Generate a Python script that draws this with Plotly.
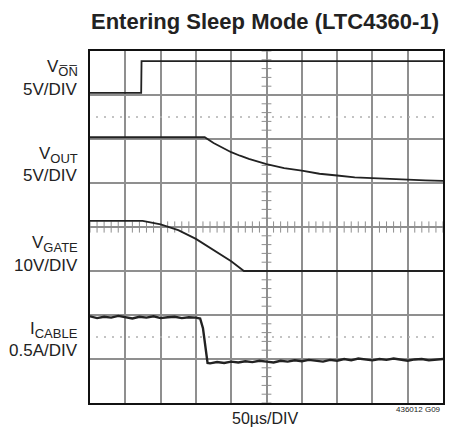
import plotly.graph_objects as go
import numpy as np

# ---- data (x in divisions 0..10, y in divisions 0..8) ----
von_t = [0, 1.45, 1.46, 10]
von_v = [7.05, 7.05, 7.77, 7.77]

vout_t = [0, 3.25, 3.5, 3.75, 4.0, 4.25, 4.5, 5.0, 5.5, 6.0, 6.5, 7.0, 7.5, 8.0, 8.5, 9.0, 9.5, 10.0]
vout_v = [6.04, 6.04, 5.91, 5.80, 5.70, 5.62, 5.55, 5.43, 5.34, 5.28, 5.21, 5.17, 5.13, 5.11, 5.09, 5.08, 5.06, 5.05]

vgate_t = [0, 1.49, 2.0, 2.5, 3.0, 3.5, 4.0, 4.36, 10]
vgate_v = [4.14, 4.14, 4.06, 3.93, 3.73, 3.48, 3.22, 3.0, 3.0]

icable_t = [0, 0.2, 0.4, 0.6, 0.8, 1.0, 1.2, 1.4, 1.6, 1.8, 2.0, 2.2, 2.4, 2.6, 2.8, 3.0,
            3.12, 3.2, 3.27, 3.33,
            3.4, 3.6, 3.8, 4.0, 4.2, 4.4, 4.6, 4.8, 5.0, 5.2, 5.4, 5.6, 5.8, 6.0, 6.2, 6.4,
            6.6, 6.8, 7.0, 7.2, 7.4, 7.6, 7.8, 8.0, 8.2, 8.4, 8.6, 8.8, 9.0, 9.2, 9.4, 9.6, 9.8, 10.0]
icable_v = [1.97, 1.93, 1.96, 1.94, 1.98, 1.95, 1.92, 1.96, 1.94, 1.97, 1.93, 1.95, 1.96, 1.93, 1.95, 1.94,
            1.92, 1.70, 1.20, 0.91,
            0.90, 0.93, 0.91, 0.94, 0.92, 0.95, 0.93, 0.96, 0.94, 0.92, 0.96, 0.94, 0.97, 0.95, 0.98, 0.96,
            0.94, 0.98, 0.96, 1.00, 0.97, 1.01, 0.99, 0.97, 1.00, 0.98, 1.01, 0.98, 0.96, 0.99, 1.00, 0.97, 0.99, 1.00]

ref_levels = [6.5, 1.5]  # dotted ground markers

SUB = "<sub><span style='font-size:13px'>{}</span></sub>"
labels = [
    ("V" + SUB.format("O\u0305N\u0305"), 7.61),
    ("5V/DIV", 7.12),
    ("V" + SUB.format("OUT"), 5.64),
    ("5V/DIV", 5.16),
    ("V" + SUB.format("GATE"), 3.61),
    ("10V/DIV", 3.13),
    ("I" + SUB.format("CABLE"), 1.67),
    ("0.5A/DIV", 1.19),
]

title_text = "Entering Sleep Mode (LTC4360-1)"
xlabel_text = "50µs/DIV"
code_text = "436012 G09"

FONT = "Liberation Sans, Arial, sans-serif"
TRACE = "#222222"
GRID = "#8f8f8f"

fig = go.Figure()

# center crosshair minor ticks
tick_y = np.arange(0, 8.001, 0.2)
tick_x = np.arange(0, 10.001, 0.2)
fig.add_trace(go.Scatter(x=[5] * len(tick_y), y=tick_y, mode="markers", hoverinfo="skip",
                         marker=dict(symbol="line-ew", size=7, line=dict(width=1, color=GRID))))
fig.add_trace(go.Scatter(x=tick_x, y=[4] * len(tick_x), mode="markers", hoverinfo="skip",
                         marker=dict(symbol="line-ns", size=8, line=dict(width=1, color=GRID))))

# dotted reference lines
for lv in ref_levels:
    fig.add_trace(go.Scatter(x=[0.17, 9.83], y=[lv, lv], mode="lines", hoverinfo="skip",
                             line=dict(color="#b0b0b0", width=1.5, dash="2px,6px")))

for t, v, w in [(von_t, von_v, 1.8), (vout_t, vout_v, 1.8), (vgate_t, vgate_v, 1.8), (icable_t, icable_v, 2.4)]:
    fig.add_trace(go.Scatter(x=t, y=v, mode="lines", line=dict(color=TRACE, width=w), hoverinfo="skip"))

LABEL_X = (80 - 90) / 353.0  # right edge of labels, in paper units
for txt, yy in labels:
    fig.add_annotation(x=LABEL_X, y=yy / 8.0, xref="paper", yref="paper", text=txt, showarrow=False,
                       xanchor="right", yanchor="middle",
                       font=dict(family=FONT, size=17, color="#222"))

fig.add_annotation(x=0.497, y=1.085, xref="paper", yref="paper", text="<b>" + title_text + "</b>",
                   showarrow=False, xanchor="center", yanchor="middle",
                   font=dict(family=FONT, size=22, color="#222"))
fig.add_annotation(x=0.497, y=-0.043, xref="paper", yref="paper", text=xlabel_text,
                   showarrow=False, xanchor="center", yanchor="middle",
                   font=dict(family=FONT, size=16, color="#222"))
fig.add_annotation(x=1.0, y=-0.019, xref="paper", yref="paper", text=code_text,
                   showarrow=False, xanchor="right", yanchor="middle",
                   font=dict(family=FONT, size=8, color="#222"))

axis_common = dict(showgrid=True, gridcolor=GRID, gridwidth=1.5, zeroline=False,
                   showticklabels=False, ticks="", showline=True, mirror=True,
                   linecolor="#111", linewidth=2, dtick=1, tick0=0, fixedrange=True)
fig.update_layout(
    width=456, height=432,
    margin=dict(l=90, r=13, t=51, b=29),
    paper_bgcolor="white", plot_bgcolor="white",
    showlegend=False,
    xaxis=dict(range=[0, 10], **axis_common),
    yaxis=dict(range=[0, 8], **axis_common),
)

fig.write_html("out.html", config={"displayModeBar": False},
               post_script="document.body.style.margin='0';")
